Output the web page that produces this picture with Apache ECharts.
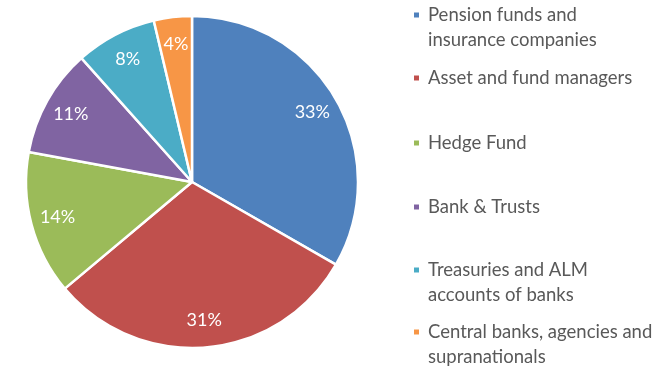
<!DOCTYPE html>
<html>
<head>
<meta charset="utf-8">
<script src="https://cdn.jsdelivr.net/npm/echarts@6/dist/echarts.min.js"></script>
<style>
html,body{margin:0;padding:0;background:#fff;}
#main{width:662px;height:374px;}
</style>
</head>
<body>
<div id="main"></div>
<script>
const categories = ['Pension funds and insurance companies', 'Asset and fund managers', 'Hedge Fund', 'Bank & Trusts', 'Treasuries and ALM accounts of banks', 'Central banks, agencies and supranationals'];
const legendLabels = ['Pension funds and\ninsurance companies', 'Asset and fund managers', 'Hedge Fund', 'Bank & Trusts', 'Treasuries and ALM\naccounts of banks', 'Central banks, agencies and\nsupranationals'];
const shares = [33.3, 30.6, 14.0, 10.5, 7.9, 3.7];
const colors = ['#4F81BD', '#C0504D', '#9BBB59', '#8064A2', '#4BACC6', '#F79646'];

const FONT = 'Lato';
const chart = echarts.init(document.getElementById('main'), null, {renderer: 'canvas'});
const data = categories.map((n, i) => ({name: n, value: shares[i], itemStyle: {color: colors[i]}}));

const legendIconY = [15, 78, 143, 207, 270, 332];
const LH = 25;
const legends = categories.map((n, i) => {
  const twoLine = legendLabels[i].indexOf('\n') >= 0;
  const text = twoLine ? '\n' + legendLabels[i] : legendLabels[i];
  const boxH = twoLine ? LH * 3 : LH;
  return {
    show: true,
    orient: 'vertical',
    left: 412,
    top: legendIconY[i] - boxH / 2,
    padding: 0,
    itemWidth: 7,
    itemHeight: 7,
    icon: 'rect',
    data: [n],
    selectedMode: false,
    formatter: () => text,
    textStyle: {
      color: '#595959',
      fontSize: 18.5,
      fontFamily: FONT,
      lineHeight: LH,
      padding: [0, 0, 0, 3]
    }
  };
});

chart.setOption({
  animation: false,
  backgroundColor: '#ffffff',
  legend: legends,
  series: [
    {
      type: 'pie',
      center: [192, 182],
      radius: 166,
      startAngle: 90,
      clockwise: true,
      silent: true,
      label: {show: false},
      labelLine: {show: false},
      itemStyle: {borderColor: '#ffffff', borderWidth: 2.5},
      data: data
    },
    {
      type: 'pie',
      center: [192, 182],
      radius: [106, 166],
      startAngle: 90,
      clockwise: true,
      silent: true,
      itemStyle: {color: 'rgba(0,0,0,0)'},
      label: {
        show: true,
        position: 'inside',
        color: '#ffffff',
        fontSize: 18,
        fontFamily: FONT,
        formatter: p => Math.round(p.value) + '%'
      },
      labelLine: {show: false},
      data: categories.map((n, i) => ({name: n, value: shares[i]}))
    }
  ]
});
</script>
</body>
</html>
